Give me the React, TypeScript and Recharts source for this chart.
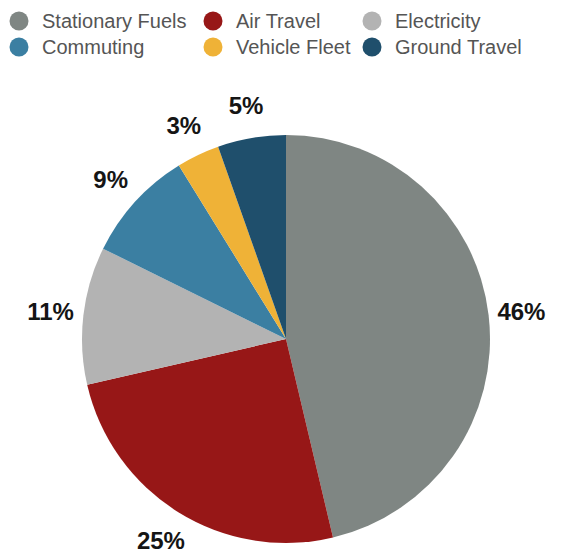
import React from 'react';
import { PieChart, Pie, Cell } from 'recharts';

const categories = ['Stationary Fuels', 'Air Travel', 'Electricity', 'Commuting', 'Vehicle Fleet', 'Ground Travel'];
const shares = [46.3, 25.1, 10.9, 8.9, 3.4, 5.4];
const COLORS = ['#7f8683', '#971717', '#b3b3b3', '#3b7fa2', '#efb237', '#1f4f6c'];

const chartData = categories.map((name, i) => ({ name, value: shares[i] }));

const RADIAN = Math.PI / 180;

const renderLabel = ({ cx, cy, midAngle, outerRadius, percent }: any) => {
  const r = outerRadius + 33;
  const x = cx + r * Math.cos(-midAngle * RADIAN);
  const y = cy + r * Math.sin(-midAngle * RADIAN);
  return (
    <text x={x} y={y} textAnchor="middle" dominantBaseline="central"
      fontFamily="Liberation Sans, Arial, sans-serif" fontSize={24} fontWeight="bold" fill="#151515">
      {`${(percent * 100).toFixed(0)}%`}
    </text>
  );
};

// legend laid out in 3 columns, 2 rows
const colX = [19, 213, 372];
const rowY = [21, 47];

const LegendBox = () => (
  <svg width={561} height={62} style={{ position: 'absolute', left: 0, top: 0 }}>
    {categories.map((name, i) => {
      const cx = colX[i % 3];
      const cy = rowY[Math.floor(i / 3)];
      return (
        <g key={`leg-${i}`}>
          <circle cx={cx} cy={cy} r={9.5} fill={COLORS[i]} />
          <text x={cx + 23} y={cy} dominantBaseline="central"
            fontFamily="Liberation Sans, Arial, sans-serif" fontSize={20} fill="#555555">
            {name}
          </text>
        </g>
      );
    })}
  </svg>
);

export default function App() {
  return (
    <div style={{ position: 'absolute', left: 0, top: 0, width: 561, height: 554, background: '#fff' }}>
      <PieChart width={561} height={554} margin={{ top: 0, right: 0, bottom: 0, left: 0 }}>
        <Pie
          data={chartData}
          dataKey="value"
          nameKey="name"
          cx={286}
          cy={339}
          outerRadius={204}
          startAngle={90}
          endAngle={-270}
          stroke="none"
          labelLine={false}
          label={renderLabel}
          isAnimationActive={false}
        >
          {chartData.map((entry, index) => (
            <Cell key={`cell-${index}`} fill={COLORS[index % COLORS.length]} />
          ))}
        </Pie>
      </PieChart>
      <LegendBox />
    </div>
  );
}
